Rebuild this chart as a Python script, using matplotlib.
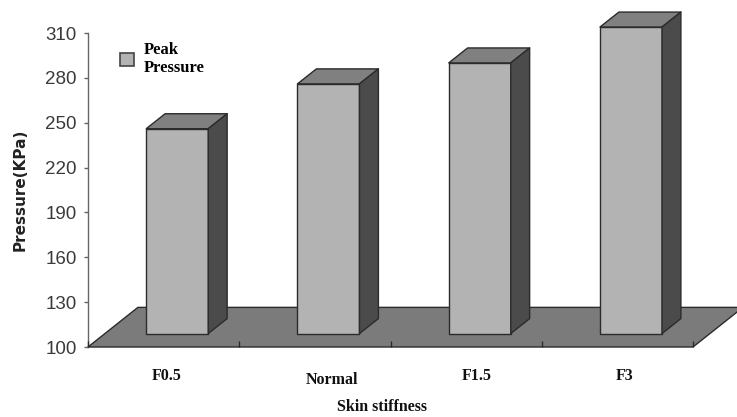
import matplotlib.pyplot as plt
from matplotlib.patches import Polygon, Patch
import numpy as np

# data (peak pressure in KPa)
categories = ['F0.5', 'Normal', 'F1.5', 'F3']
values = [237, 267, 281, 305]
y_ticks = [100, 130, 160, 190, 220, 250, 280, 310]

# colours
front_col = '#b3b3b3'
top_col = '#808080'
side_col = '#4b4b4b'
floor_col = '#7b7b7b'
edge_col = '#2b2b2b'

# fake 3D geometry (category units / value units)
floor_dx, floor_dy = 0.33, 26.5
bar_off_x, bar_off_y = 0.09, 9.0
bar_w = 0.41
bar_dx, bar_dy = 0.125, 10.0
ymin = 100

fig = plt.figure(figsize=(7.37, 4.17), dpi=100)
ax = fig.add_axes([88 / 737, 70 / 417, 605 / 737, 314 / 417])
ax.set_xlim(-0.5, 3.5)
ax.set_ylim(100, 310)


def poly(pts, fc, z):
    p = Polygon(pts, closed=True, facecolor=fc, edgecolor=edge_col,
                linewidth=1.0, clip_on=False, zorder=z, joinstyle='round')
    ax.add_patch(p)


# floor
x0, x1 = -0.5, 3.5
poly([(x0, ymin), (x1, ymin), (x1 + floor_dx, ymin + floor_dy),
      (x0 + floor_dx, ymin + floor_dy)], floor_col, 1)

# bars
for i, v in enumerate(values):
    left = i - bar_w / 2 + bar_off_x
    right = left + bar_w
    base = ymin + bar_off_y
    top = base + (v - ymin)
    poly([(left, base), (right, base), (right, top), (left, top)], front_col, 3)
    poly([(left, top), (right, top), (right + bar_dx, top + bar_dy),
          (left + bar_dx, top + bar_dy)], top_col, 3)
    poly([(right, base), (right + bar_dx, base + bar_dy),
          (right + bar_dx, top + bar_dy), (right, top)], side_col, 3)

# axes styling
for s in ['top', 'right', 'bottom']:
    ax.spines[s].set_visible(False)
ax.spines['left'].set_color('#666666')
ax.spines['left'].set_linewidth(1.0)
ax.spines['left'].set_bounds(100, 310)
ax.spines['left'].set_zorder(0)
ax.set_yticks(y_ticks)
ax.tick_params(axis='y', direction='out', length=3, width=1, color='#666666',
               pad=5, labelsize=13.5, labelcolor='#3a3a3a')
for lab in ax.get_yticklabels():
    lab.set_fontfamily('Liberation Sans')

ax.set_xticks(np.arange(-0.5, 4.0, 1.0))
ax.set_xticklabels([])
ax.tick_params(axis='x', direction='in', length=4, width=1, color='#2b2b2b')
ax.xaxis.set_zorder(2)

label_dx = [0.02, 0.11, 0.07, 0.05]
label_dy = [29, 33, 29, 29]
for i, c in enumerate(categories):
    ax.annotate(c, xy=(i + label_dx[i], ymin), xytext=(0, -label_dy[i] * 0.72),
                textcoords='offset points', ha='center', va='center',
                fontfamily='Liberation Serif', fontweight='bold', fontsize=11.5,
                color='#111111', annotation_clip=False)

fig.text(382 / 737, 1 - 407 / 417, 'Skin stiffness', ha='center', va='center',
         fontfamily='Liberation Serif', fontweight='bold', fontsize=11.5, color='#111111')
fig.text(20 / 737, 1 - 190 / 417, 'Pressure(KPa)', rotation=90, ha='center', va='center',
         fontfamily='DejaVu Sans', fontweight='bold', fontsize=11, color='#222222')

handle = Patch(facecolor=front_col, edgecolor='#444444', linewidth=1.2)
leg = ax.legend([handle], ['Peak\nPressure'], loc='upper left',
                bbox_to_anchor=(120 / 737, 1 - 42 / 417), bbox_transform=fig.transFigure,
                frameon=False, borderpad=0, borderaxespad=0, handlelength=0.85,
                handleheight=0.85, handletextpad=0.6,
                prop={'family': 'Liberation Serif', 'weight': 'bold', 'size': 12})
leg.set_zorder(5)

fig.savefig('out.png', dpi=100)
